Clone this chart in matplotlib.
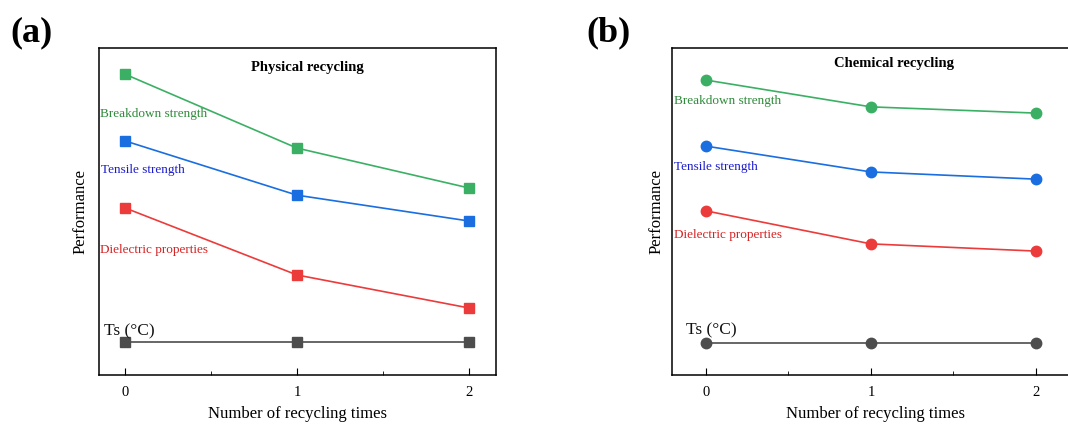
import numpy as np
import matplotlib
matplotlib.use("Agg")
import matplotlib.pyplot as plt
from matplotlib.ticker import MultipleLocator

plt.rcParams['font.family'] = ['Liberation Serif', 'DejaVu Serif']

x = [0, 1, 2]
series_names = ["Breakdown strength", "Tensile strength", "Dielectric properties", "Ts (\u00b0C)"]

# physical recycling (a)
phys_breakdown = [92.0, 69.4, 57.2]
phys_tensile = [71.6, 55.0, 47.1]
phys_dielectric = [51.1, 30.6, 20.5]
phys_ts = [10.1, 10.1, 10.1]

# chemical recycling (b)
chem_breakdown = [90.2, 82.0, 80.1]
chem_tensile = [70.0, 62.1, 59.9]
chem_dielectric = [50.2, 40.1, 37.9]
chem_ts = [9.8, 9.8, 9.8]

line_colors = ["#3bb064", "#1a6ee0", "#ec3b3b", "#4d4d4d"]
text_colors = ["#2e8b3a", "#1c1ccf", "#d42424", "#111111"]

fig = plt.figure(figsize=(10.68, 4.27), dpi=100)
ax1 = fig.add_axes([0.0927, 0.1194, 0.3717, 0.7658])
ax2 = fig.add_axes([0.6292, 0.1194, 0.3717, 0.7658])


def draw_panel(ax, data, marker, ms, xlim, title, title_xy, label_pos):
    for vals, c in zip(data, line_colors):
        ax.plot(x, vals, color=c, lw=1.2, marker=marker, ms=ms, mfc=c, mec=c)
    for name, (tx, ty), tc in zip(series_names, label_pos, text_colors):
        fs = 12.5 if name.startswith("Ts") else 9.5
        ax.text(tx, ty, name, color=tc, fontsize=fs, ha="left", va="center")
    ax.text(title_xy[0], title_xy[1], title, fontsize=10.5, fontweight="bold",
            ha="center", va="center")
    ax.set_xlim(*xlim)
    ax.set_ylim(0, 100)
    ax.set_xticks(x)
    ax.set_xticklabels(["0", "1", "2"])
    ax.xaxis.set_minor_locator(MultipleLocator(0.5))
    ax.tick_params(axis="x", which="major", direction="in", length=5, labelsize=10.5, pad=7)
    ax.tick_params(axis="x", which="minor", direction="in", length=3)
    ax.set_yticks([])
    for s in ax.spines.values():
        s.set_linewidth(1.1)


draw_panel(ax1, [phys_breakdown, phys_tensile, phys_dielectric, phys_ts], "s", 6.5,
           (-0.151, 2.157), "Physical recycling", (1.058, 94.5),
           [(-0.145, 80.2), (-0.14, 63.0), (-0.145, 38.6), (-0.12, 13.8)])
draw_panel(ax2, [chem_breakdown, chem_tensile, chem_dielectric, chem_ts], "o", 7.5,
           (-0.206, 2.2), "Chemical recycling", (1.14, 95.7),
           [(-0.194, 84.0), (-0.194, 64.0), (-0.194, 43.0), (-0.12, 14.1)])

fig.text(297 / 1068, 1 - 414 / 427, "Number of recycling times", fontsize=12, ha="center", va="center")
fig.text(876 / 1068, 1 - 414 / 427, "Number of recycling times", fontsize=12, ha="center", va="center")
fig.text(81 / 1068, 1 - 212 / 427, "Performance", fontsize=12, rotation=90, ha="center", va="center")
fig.text(657 / 1068, 1 - 212 / 427, "Performance", fontsize=12, rotation=90, ha="center", va="center")
fig.text(32 / 1068, 1 - 33 / 427, "(a)", fontsize=26, fontweight="bold", ha="center", va="center")
fig.text(608 / 1068, 1 - 33 / 427, "(b)", fontsize=26, fontweight="bold", ha="center", va="center")

fig.savefig("out.png", dpi=100)
plt.close(fig)
